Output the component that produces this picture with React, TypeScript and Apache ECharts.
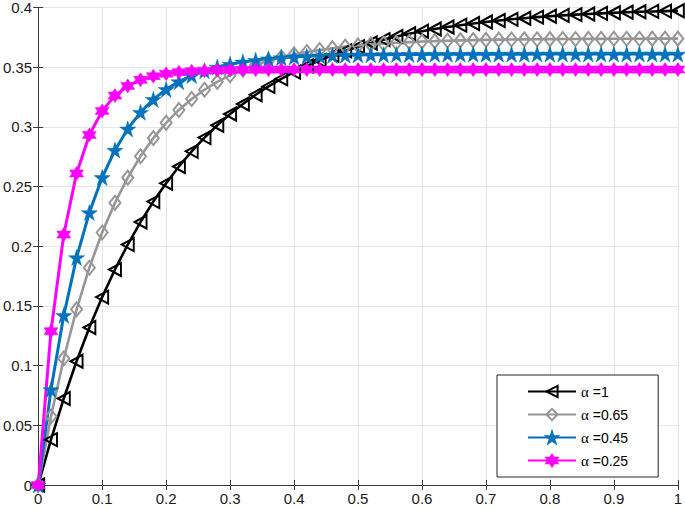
import React, { useEffect, useRef } from "react";
import * as echarts from "echarts";

const xs = [0, 0.02, 0.04, 0.06, 0.08, 0.1, 0.12, 0.14, 0.16, 0.18, 0.2, 0.22, 0.24, 0.26, 0.28, 0.3, 0.32, 0.34, 0.36, 0.38, 0.4, 0.42, 0.44, 0.46, 0.48, 0.5, 0.52, 0.54, 0.56, 0.58, 0.6, 0.62, 0.64, 0.66, 0.68, 0.7, 0.72, 0.74, 0.76, 0.78, 0.8, 0.82, 0.84, 0.86, 0.88, 0.9, 0.92, 0.94, 0.96, 0.98, 1];

const alpha1 = [0, 0.038, 0.0725, 0.1037, 0.1319, 0.1574, 0.1805, 0.2014, 0.2203, 0.2374, 0.2528, 0.2668, 0.2795, 0.291, 0.3014, 0.3108, 0.3192, 0.3269, 0.3339, 0.3402, 0.3459, 0.351, 0.3557, 0.3599, 0.3637, 0.3672, 0.3703, 0.3731, 0.3757, 0.378, 0.3801, 0.382, 0.3837, 0.3852, 0.3866, 0.3879, 0.3891, 0.3901, 0.391, 0.3919, 0.3927, 0.3934, 0.394, 0.3946, 0.3951, 0.3956, 0.396, 0.3964, 0.3967, 0.397, 0.3973];
const alpha065 = [0, 0.0574, 0.106, 0.1472, 0.182, 0.2115, 0.2364, 0.2575, 0.2754, 0.2906, 0.3034, 0.3142, 0.3234, 0.3311, 0.3377, 0.3433, 0.348, 0.352, 0.3554, 0.3583, 0.3607, 0.3627, 0.3644, 0.3659, 0.3672, 0.3682, 0.3691, 0.3698, 0.3705, 0.371, 0.3715, 0.3718, 0.3722, 0.3725, 0.3727, 0.3729, 0.3731, 0.3732, 0.3733, 0.3734, 0.3735, 0.3736, 0.3736, 0.3737, 0.3737, 0.3738, 0.3738, 0.3738, 0.3739, 0.3739, 0.3739];
const alpha045 = [0, 0.0799, 0.1421, 0.1905, 0.2282, 0.2576, 0.2805, 0.2983, 0.3122, 0.323, 0.3314, 0.3379, 0.343, 0.347, 0.3501, 0.3525, 0.3544, 0.3558, 0.357, 0.3579, 0.3586, 0.3591, 0.3595, 0.3598, 0.3601, 0.3603, 0.3604, 0.3605, 0.3606, 0.3607, 0.3607, 0.3608, 0.3608, 0.3608, 0.3609, 0.3609, 0.3609, 0.3609, 0.3609, 0.361, 0.361, 0.361, 0.361, 0.361, 0.361, 0.361, 0.361, 0.361, 0.361, 0.361, 0.361];
const alpha025 = [0, 0.1288, 0.2098, 0.261, 0.2932, 0.3134, 0.3262, 0.3343, 0.3394, 0.3425, 0.3446, 0.3458, 0.3466, 0.3471, 0.3474, 0.3477, 0.3478, 0.3479, 0.3479, 0.348, 0.348, 0.348, 0.348, 0.348, 0.348, 0.348, 0.348, 0.348, 0.348, 0.348, 0.348, 0.348, 0.348, 0.348, 0.348, 0.348, 0.348, 0.348, 0.348, 0.348, 0.348, 0.348, 0.348, 0.348, 0.348, 0.348, 0.348, 0.348, 0.348, 0.348, 0.348];

const seriesNames = ["α =1", "α =0.65", "α =0.45", "α =0.25"];

const TRI_LEFT = "path://M100,0 L0,50 L100,100 Z";
const PENTAGRAM =
  "path://M0,-100 L22.45,-30.9 L95.1,-30.9 L36.33,11.8 L58.78,80.9 L0,38.2 L-58.78,80.9 L-36.33,11.8 L-95.1,-30.9 L-22.45,-30.9 Z";
const HEXAGRAM =
  "path://M0,-100 L28.87,-50 L86.6,-50 L57.7,0 L86.6,50 L28.87,50 L0,100 L-28.87,50 L-86.6,50 L-57.7,0 L-86.6,-50 L-28.87,-50 Z";

const pairs = (ys: number[]) => xs.map((x, i) => [x, ys[i]]);

export default function App() {
  const ref = useRef<HTMLDivElement>(null);
  useEffect(() => {
    if (!ref.current) return;
    const chart = echarts.init(ref.current, undefined, { renderer: "svg" });
    const axisColor = "#3a3a3a";
    const labelStyle = { color: "#1a1a1a", fontSize: 15, fontFamily: "Liberation Sans" };
    chart.setOption({
      animation: false,
      backgroundColor: "#fff",
      textStyle: { fontFamily: "Liberation Sans" },
      grid: { left: 37, right: 7, top: 5, bottom: 23, containLabel: false },
      xAxis: [
        {
          type: "value",
          min: 0,
          max: 1,
          interval: 0.1,
          position: "bottom",
          axisLine: { show: true, lineStyle: { color: axisColor, width: 1 } },
          axisTick: { show: true, inside: true, length: 5, lineStyle: { color: axisColor } },
          axisLabel: { ...labelStyle, margin: 6 },
          splitLine: { show: true, lineStyle: { color: "#e6e6e6", width: 1 } },
        },
        {
          type: "value",
          min: 0,
          max: 1,
          interval: 0.1,
          position: "top",
          axisLine: { show: true, lineStyle: { color: axisColor, width: 1 } },
          axisTick: { show: true, inside: true, length: 5, lineStyle: { color: axisColor } },
          axisLabel: { show: false },
          splitLine: { show: false },
        },
      ],
      yAxis: [
        {
          type: "value",
          min: 0,
          max: 0.4,
          interval: 0.05,
          position: "left",
          axisLine: { show: true, lineStyle: { color: axisColor, width: 1 } },
          axisTick: { show: true, inside: true, length: 5, lineStyle: { color: axisColor } },
          axisLabel: { ...labelStyle, margin: 6 },
          splitLine: { show: true, lineStyle: { color: "#e6e6e6", width: 1 } },
        },
        {
          type: "value",
          min: 0,
          max: 0.4,
          interval: 0.05,
          position: "right",
          axisLine: { show: true, lineStyle: { color: axisColor, width: 1 } },
          axisTick: { show: true, inside: true, length: 5, lineStyle: { color: axisColor } },
          axisLabel: { show: false },
          splitLine: { show: false },
        },
      ],
      legend: {
        orient: "vertical",
        left: 497,
        top: 375,
        backgroundColor: "#fff",
        borderColor: "#262626",
        borderWidth: 1,
        borderRadius: 0,
        padding: [9, 30, 9, 30],
        itemWidth: 48,
        itemHeight: 14,
        itemGap: 8,
        data: seriesNames,
        formatter: (name: string) => `{a|α}{b|${name.slice(1)}}`,
        textStyle: {
          color: "#000",
          rich: {
            a: { fontFamily: "Liberation Serif", fontSize: 15, color: "#000" },
            b: { fontFamily: "Liberation Sans", fontSize: 14, color: "#000" },
          },
        },
      },
      series: [
        {
          name: seriesNames[0],
          type: "line",
          data: pairs(alpha1),
          clip: false,
          symbol: TRI_LEFT,
          symbolSize: [12, 13],
          showAllSymbol: true,
          lineStyle: { color: "#000", width: 2.6 },
          itemStyle: { color: "rgba(255,255,255,0)", borderColor: "#000", borderWidth: 2 },
        },
        {
          name: seriesNames[1],
          type: "line",
          data: pairs(alpha065),
          clip: false,
          symbol: "diamond",
          symbolSize: [11, 14],
          showAllSymbol: true,
          lineStyle: { color: "#969696", width: 2.6 },
          itemStyle: { color: "rgba(255,255,255,0)", borderColor: "#969696", borderWidth: 2 },
        },
        {
          name: seriesNames[2],
          type: "line",
          data: pairs(alpha045),
          clip: false,
          symbol: PENTAGRAM,
          symbolSize: 16,
          showAllSymbol: true,
          lineStyle: { color: "#0072BD", width: 3 },
          itemStyle: { color: "#0072BD", borderColor: "#0072BD", borderWidth: 0.5 },
        },
        {
          name: seriesNames[3],
          type: "line",
          data: pairs(alpha025),
          clip: false,
          symbol: HEXAGRAM,
          symbolSize: 14,
          showAllSymbol: true,
          lineStyle: { color: "#FF00FF", width: 3 },
          itemStyle: { color: "#FF00FF", borderColor: "#FF00FF", borderWidth: 0.5 },
        },
      ],
    });
    return () => chart.dispose();
  }, []);
  return <div ref={ref} style={{ width: 685, height: 508, position: "absolute", left: 0, top: 0 }} />;
}
